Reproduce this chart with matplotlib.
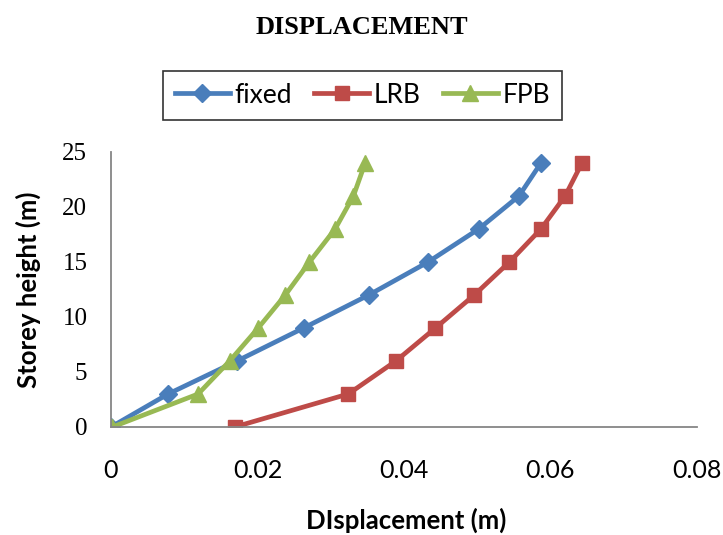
"""
displacement_plot.py

storey height vs displacement for three base conditions
"""

import numpy as np
import matplotlib
matplotlib.use("Agg")
import matplotlib.pyplot as plt


# storey heights (m)
heights_fixed = [0, 3, 6, 9, 12, 15, 18, 21, 24]
heights_lrb = [0, 3, 6, 9, 12, 15, 18, 21, 24]
heights_fpb = [0, 3, 6, 9, 12, 15, 18, 21, 24]

# displacements (m)
disp_fixed = [0.0, 0.0078, 0.0172, 0.0263, 0.0352, 0.0433, 0.0502, 0.0557, 0.0587]
disp_lrb = [0.0169, 0.0324, 0.0389, 0.0443, 0.0496, 0.0544, 0.0587, 0.0620, 0.0643]
disp_fpb = [0.0002, 0.0119, 0.0162, 0.0201, 0.0238, 0.0271, 0.0306, 0.0331, 0.0347]

x_ticks = [0, 0.02, 0.04, 0.06, 0.08]
x_tick_labels = ["0", "0.02", "0.04", "0.06", "0.08"]
y_ticks = [0, 5, 10, 15, 20, 25]

BLUE = "#4A7EBB"
RED = "#BE4B48"
GREEN = "#98B954"
AXIS_GREY = "#868686"

SANS = ["Lato", "DejaVu Sans"]
SERIF = ["Liberation Serif", "DejaVu Serif"]

fig = plt.figure(figsize=(7.23, 5.35), dpi=100)
ax = fig.add_axes([0.1535, 0.2019, 0.8105, 0.514])

ax.plot(disp_fixed, heights_fixed, color=BLUE, lw=3.4, marker="D", ms=9.5, label="fixed")
ax.plot(disp_lrb, heights_lrb, color=RED, lw=3.4, marker="s", ms=9.5, label="LRB")
ax.plot(disp_fpb, heights_fpb, color=GREEN, lw=3.4, marker="^", ms=12, label="FPB")

ax.set_xlim(0, 0.08)
ax.set_ylim(0, 25)
ax.set_xticks(x_ticks)
ax.set_xticklabels(x_tick_labels, family=SANS, fontsize=18)
ax.set_yticks(y_ticks)
ax.set_yticklabels([str(v) for v in y_ticks], family=SERIF, fontsize=18)
ax.tick_params(axis="x", length=0, pad=23)
ax.tick_params(axis="y", length=0, pad=17)

for side in ["top", "right"]:
    ax.spines[side].set_visible(False)
for side in ["left", "bottom"]:
    ax.spines[side].set_color(AXIS_GREY)
    ax.spines[side].set_linewidth(1.3)

ax.set_xlabel("DIsplacement (m)", family=SANS, fontsize=18.5, fontweight="bold")
ax.xaxis.set_label_coords(0.5036, -0.295)
ax.set_ylabel("Storey height (m)", family=SANS, fontsize=18.5, fontweight="bold")
ax.yaxis.set_label_coords(-0.12, 0.5)

fig.text(0.5, 0.948, "DISPLACEMENT", ha="center", va="center",
         family=SERIF, fontsize=19, fontweight="bold")

leg = fig.legend(loc="center", bbox_to_anchor=(0.501, 0.822), ncol=3,
                 prop={"family": SANS, "size": 19}, frameon=True, fancybox=False,
                 handlelength=2.1, columnspacing=0.85, handletextpad=0.15,
                 borderpad=0.45, borderaxespad=0)
leg.get_frame().set_edgecolor("black")
leg.get_frame().set_linewidth(1.2)

fig.savefig("out.png", dpi=100)
